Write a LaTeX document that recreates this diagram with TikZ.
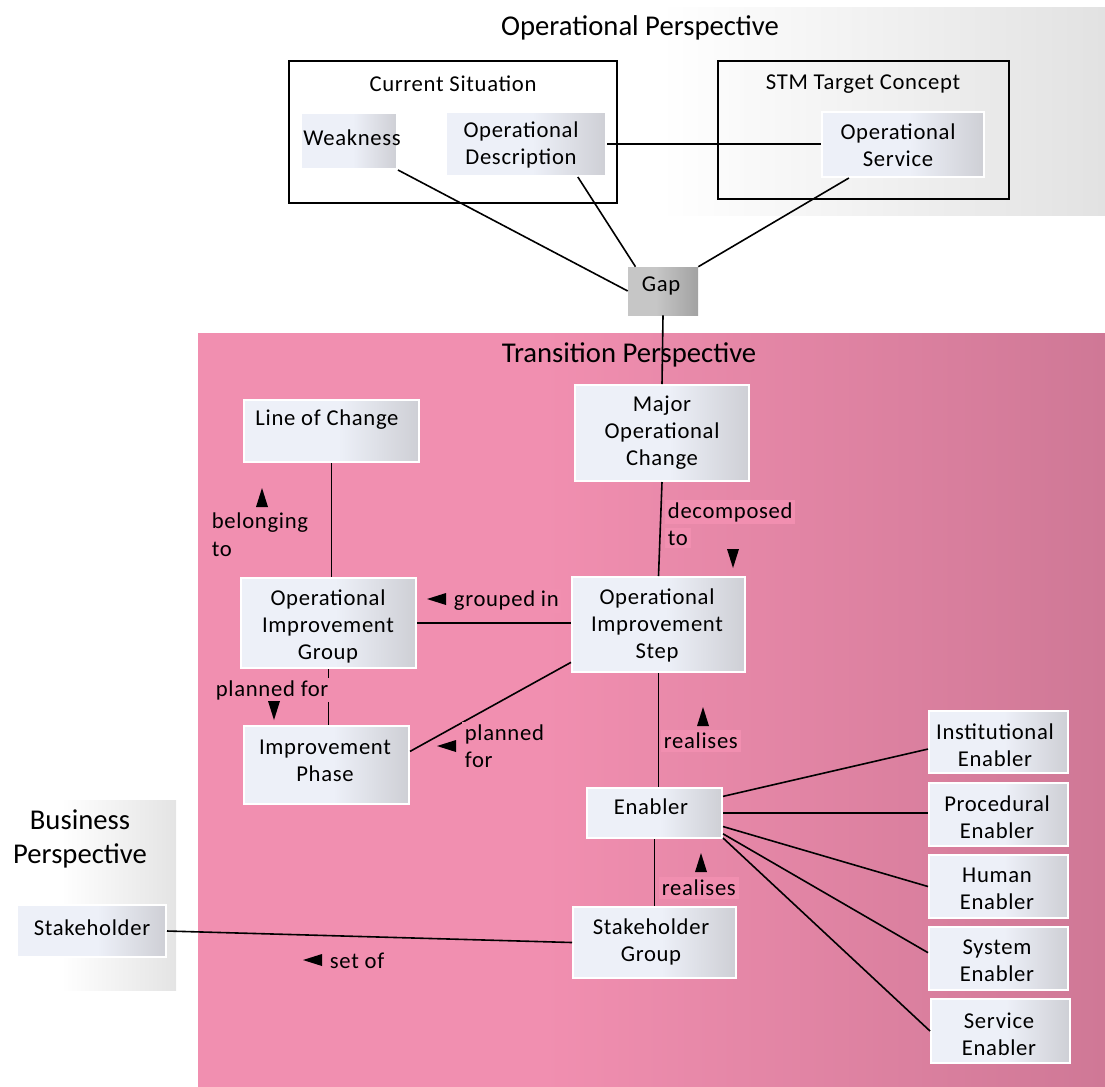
\documentclass[tikz,border=0pt]{standalone}
\usepackage{fontspec}
\setmainfont{Carlito}[LetterSpace=3]
\newfontfamily\titlefont{Carlito}
\usetikzlibrary{calc,fit}
\definecolor{nodeL}{RGB}{237,240,248}
\definecolor{nodeR}{RGB}{206,207,213}
\definecolor{gapL}{RGB}{198,198,198}
\definecolor{gapR}{RGB}{162,162,162}
\definecolor{pinkL}{RGB}{241,143,176}
\definecolor{pinkR}{RGB}{207,120,150}
\definecolor{opR}{RGB}{226,226,226}
\definecolor{bizR}{RGB}{228,228,228}
\pgfdeclarehorizontalshading{nodesh}{100bp}{color(0bp)=(nodeL); color(25bp)=(nodeL); color(52bp)=(nodeL); color(75bp)=(nodeR); color(100bp)=(nodeR)}
\pgfdeclarehorizontalshading{gapsh}{100bp}{color(0bp)=(gapL); color(25bp)=(gapL); color(45bp)=(gapL); color(75bp)=(gapR); color(100bp)=(gapR)}
\pgfdeclarehorizontalshading{pinksh}{100bp}{color(0bp)=(pinkL); color(25bp)=(pinkL); color(44bp)=(pinkL); color(75bp)=(pinkR); color(100bp)=(pinkR)}
\pgfdeclarehorizontalshading{opsh}{100bp}{color(0bp)=(white); color(25bp)=(white); color(48bp)=(white); color(75bp)=(opR); color(100bp)=(opR)}
\pgfdeclarehorizontalshading{bizsh}{100bp}{color(0bp)=(white); color(25bp)=(white); color(40bp)=(white); color(75bp)=(bizR); color(100bp)=(bizR)}
\begin{document}
\begin{tikzpicture}[x=0.75pt,y=-0.75pt,
  bodyfont/.style={font=\fontsize{17}{20.25}\selectfont},
  titlef/.style={font=\titlefont\fontsize{21.5}{25.5}\selectfont},
  box/.style={shade,shading=nodesh,draw=white,line width=1.5pt,inner sep=0pt,rectangle},
  gapbox/.style={shade,shading=gapsh,draw=none,inner sep=0pt,rectangle},
  frame/.style={draw=black,line width=1.4pt,inner sep=0pt,rectangle},
  txt/.style={bodyfont,align=center,inner sep=0pt},
  ttl/.style={titlef,align=center,inner sep=0pt},
  lbl/.style={bodyfont,fill=pinkL,inner xsep=2pt,inner ysep=2pt,anchor=west},
  conn/.style={draw=black,line width=1.2pt},
  tri/.style={fill=black}
]
\useasboundingbox (0,0) rectangle (1105,1086);

% ---------- perspectives (backgrounds)
\shade[shading=opsh] (280,7) rectangle (1105,215);
\shade[shading=pinksh] (198,333) rectangle (1105,1086);
\shade[shading=bizsh] (12,800) rectangle (176,990);

\node[ttl] (opt) at (640,28) {Operational Perspective};
\node[ttl] (trt) at (629,355) {Transition Perspective};
\node[ttl] (bzt) at (80,839) {Business\\Perspective};

% ---------- frames
\node[frame,fit={(289,61) (617,203)}] (cs) {};
\node[frame,fit={(718,61) (1009,199)}] (stm) {};
\node[txt] (cs-t) at (453,84) {Current Situation};
\node[txt] (stm-t) at (863,84) {STM Target Concept};

% ---------- boxes
\node[box,fit={(301,113) (397,169)}] (weak) {};
\node[box,fit={(446,112) (606,176)}] (od) {};
\node[box,fit={(822,112) (984,177)}] (os) {};
\node[gapbox,fit={(628,267) (698,315)}] (gap) {};
\node[box,fit={(575,385) (749,481)}] (moc) {};
\node[box,fit={(244,400) (419,462)}] (loc) {};
\node[box,fit={(241,578) (416,668)}] (oig) {};
\node[box,fit={(572,577) (745,672)}] (ois) {};
\node[box,fit={(244,726) (409,804)}] (ip) {};
\node[box,fit={(587,788) (722,838)}] (en) {};
\node[box,fit={(573,907) (736,978)}] (sg) {};
\node[box,fit={(17,905) (166,957)}] (st) {};
\node[box,fit={(929,711) (1068,773)}] (ie) {};
\node[box,fit={(929,783) (1068,846)}] (pe) {};
\node[box,fit={(929,855) (1068,918)}] (he) {};
\node[box,fit={(929,927) (1068,990)}] (sy) {};
\node[box,fit={(931,999) (1070,1063)}] (se) {};

% ---------- connectors
\draw[conn] (weak.south east) -- (gap.west);
\draw[conn] ($(od.south west)!0.82!(od.south east)$) -- ($(gap.north west)!0.11!(gap.north east)$);
\draw[conn] ($(os.south west)!0.17!(os.south east)$) -- (gap.north east);
\draw[conn] (od.east) -- (od.east -| os.west);
\draw[conn] (gap.south) -- (moc.north);
\draw[conn] (loc.south) -- (loc.south |- oig.north);
\draw[conn] (moc.south) -- (ois.north);
\draw[conn] (oig.east) -- (oig.east -| ois.west);
\draw[conn] (oig.south) -- (oig.south |- ip.north);
\draw[conn] ($(ois.north west)!0.89!(ois.south west)$) -- ($(ip.north east)!0.33!(ip.south east)$);
\draw[conn] (ois.south) -- (ois.south |- en.north);
\draw[conn] (en.south) -- (en.south |- sg.north);
\draw[conn] (sg.west) -- (st.east);
\draw[conn] ($(en.north east)!0.18!(en.south east)$) -- ($(ie.north west)!0.61!(ie.south west)$);
\draw[conn] (en.east) -- (en.east -| pe.west);
\draw[conn] ($(en.north east)!0.76!(en.south east)$) -- (he.west);
\draw[conn] ($(en.north east)!0.90!(en.south east)$) -- ($(sy.north west)!0.41!(sy.south west)$);
\draw[conn] ($(en.north east)!0.98!(en.south east)$) -- (se.west);

% ---------- box texts
\node[txt] (weak-t) at (352,138) {Weakness};
\node[txt] (od-t) at (521,145) {Operational\\Description};
\node[txt] (os-t) at (898,145) {Operational\\Service};
\node[txt] (gap-t) at (661,286) {Gap};
\node[txt] (moc-t) at (662,433) {Major\\Operational\\Change};
\node[txt] (loc-t) at (327,420) {Line of Change};
\node[txt] (oig-t) at (328,626) {Operational\\Improvement\\Group};
\node[txt] (ois-t) at (657,625) {Operational\\Improvement\\Step};
\node[txt] (ip-t) at (325,761) {Improvement\\Phase};
\node[txt] (en-t) at (651,807) {Enabler};
\node[txt] (sg-t) at (651,942) {Stakeholder\\Group};
\node[txt] (st-t) at (92,928) {Stakeholder};
\node[txt] (ie-t) at (995,745) {Institutional\\Enabler};
\node[txt] (pe-t) at (997,817) {Procedural\\Enabler};
\node[txt] (he-t) at (997,889) {Human\\Enabler};
\node[txt] (sy-t) at (997,961) {System\\Enabler};
\node[txt] (se-t) at (999,1034) {Service\\Enabler};

% ---------- relation labels (one filled node per line)
\node[lbl] (l-bel1) at (209,523) {belonging};
\node[lbl] (l-bel2) at (209,549) {to};
\node[lbl] (l-dec1) at (665,512) {decomposed};
\node[lbl] (l-dec2) at (665,538) {to};
\node[lbl] (l-grp) at (451,601) {grouped in};
\node[lbl] (l-pl1) at (213,690) {planned for};
\node[lbl] (l-pl2a) at (462,734) {planned};
\node[lbl] (l-pl2b) at (462,760) {for};
\node[lbl] (l-re1) at (661,741) {realises};
\node[lbl] (l-re2) at (659,888) {realises};
\node[lbl] (l-set) at (327,961) {set of};

% ---------- direction triangles
\fill[tri] (256,507) -- (268,507) -- (262,488) -- cycle;   % up
\fill[tri] (727,549) -- (739,549) -- (733,568) -- cycle;   % down
\fill[tri] (446,593) -- (446,605) -- (427,599) -- cycle;   % left
\fill[tri] (268,701) -- (280,701) -- (274,720) -- cycle;   % down
\fill[tri] (456,740) -- (456,752) -- (437,746) -- cycle;   % left
\fill[tri] (697,726) -- (709,726) -- (703,707) -- cycle;   % up
\fill[tri] (695,872) -- (707,872) -- (701,853) -- cycle;   % up
\fill[tri] (322,954) -- (322,966) -- (303,960) -- cycle;   % left
\end{tikzpicture}
\end{document}
